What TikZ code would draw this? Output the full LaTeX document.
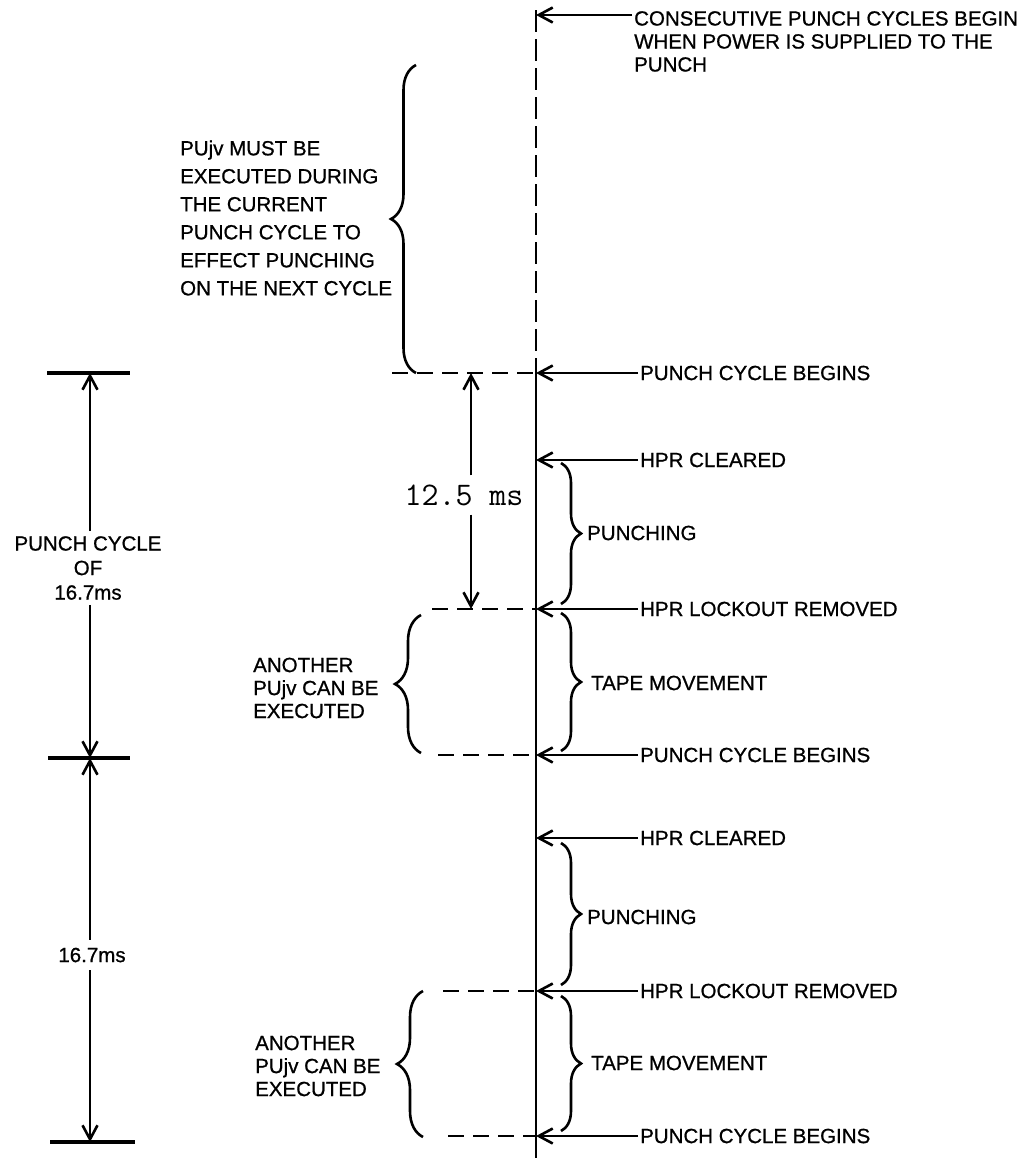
\documentclass[tikz,border=0pt]{standalone}
\usepackage{fontspec}
\setmainfont{Liberation Sans}[FakeBold=0.8]
\usetikzlibrary{arrows.meta, decorations.pathreplacing}

\begin{document}
\begin{tikzpicture}[
  x=1pt, y=-1pt,
  font=\fontsize{20.5}{23}\selectfont,
  arr/.style={-{Straight Barb[length=14pt, width=15pt]}, line width=2.6pt},
  tline/.style={line width=2.8pt},
  tdash/.style={line width=2.8pt, dash pattern=on 22pt off 7pt},
  hdash/.style={line width=2.6pt, dash pattern=on 16pt off 9pt},
  bar/.style={line width=3.2pt},
  brc/.style={decorate, decoration={brace, amplitude=#1}, line width=2.6pt},
  evt/.style={anchor=west, inner sep=2pt},
  note/.style={align=left, anchor=west, inner sep=2pt}
]
\useasboundingbox (0,0) rectangle (1021,1160);

% time line
\coordinate (top) at (536,10);
\coordinate (t0) at (536,15);
\coordinate (p1) at (536,373);
\coordinate (c1) at (536,460);
\coordinate (l1) at (536,609);
\coordinate (p2) at (536,755);
\coordinate (c2) at (536,838);
\coordinate (l2) at (536,991);
\coordinate (p3) at (536,1136);
\coordinate (bot) at (536,1160);

\draw[tdash] (top) -- (p1);
\draw[tline] (p1) -- (p3);
\draw[tdash] (p3) -- (bot);

% events
\node[note, anchor=north west] (cons) at (632,9)
  {CONSECUTIVE PUNCH CYCLES BEGIN\\WHEN POWER IS SUPPLIED TO THE\\PUNCH};
\draw[arr] (cons.west |- t0) -- (t0);

\node[evt] (e1) at (638,373) {PUNCH CYCLE BEGINS};
\draw[arr] (e1.west) -- (p1);
\node[evt] (e2) at (638,460) {HPR CLEARED};
\draw[arr] (e2.west) -- (c1);
\node[evt] (e3) at (638,609) {HPR LOCKOUT REMOVED};
\draw[arr] (e3.west) -- (l1);
\node[evt] (e4) at (638,755) {PUNCH CYCLE BEGINS};
\draw[arr] (e4.west) -- (p2);
\node[evt] (e5) at (638,838) {HPR CLEARED};
\draw[arr] (e5.west) -- (c2);
\node[evt] (e6) at (638,991) {HPR LOCKOUT REMOVED};
\draw[arr] (e6.west) -- (l2);
\node[evt] (e7) at (638,1136) {PUNCH CYCLE BEGINS};
\draw[arr] (e7.west) -- (p3);

% phases on the right
\draw[brc=20pt] (561,463) -- (561,604);
\node[evt] (ph1) at (585,533) {PUNCHING};
\draw[brc=20pt] (561,613) -- (561,751);
\node[evt] (tp1) at (589,683) {TAPE MOVEMENT};
\draw[brc=20pt] (561,843) -- (561,985);
\node[evt] (ph2) at (585,917) {PUNCHING};
\draw[brc=20pt] (561,996) -- (561,1131);
\node[evt] (tp2) at (589,1063) {TAPE MOVEMENT};

% windows on the left
\draw[brc=25pt] (416,373) -- (416,65);
\node[note, font=\fontsize{20.5}{28}\selectfont] (must) at (178,218)
  {PUjv MUST BE\\EXECUTED DURING\\THE CURRENT\\PUNCH CYCLE TO\\EFFECT PUNCHING\\ON THE NEXT CYCLE};
\draw[hdash] (392,373) -- (p1);

\draw[brc=26pt] (421,753) -- (421,615);
\node[note] (ano1) at (251,688) {ANOTHER\\PUjv CAN BE\\EXECUTED};
\draw[hdash] (432,609) -- (l1);
\draw[hdash] (438,755) -- (p2);

\draw[brc=26pt] (423,1137) -- (423,991);
\node[note] (ano2) at (253,1066) {ANOTHER\\PUjv CAN BE\\EXECUTED};
\draw[hdash] (443,991) -- (l2);
\draw[hdash] (448,1136) -- (p3);

% 12.5 ms
\coordinate (d1) at (471,373);
\coordinate (d2) at (471,609);
\node[font=\ttfamily\fontsize{33}{33}\selectfont, inner sep=9pt] (ms) at (464,495) {12.5 ms};
\draw[arr] (ms.north -| d1) -- (d1);
\draw[arr] (ms.south -| d2) -- (d2);

% cycle dimensions
\coordinate (b1) at (90,373);
\coordinate (b2) at (90,758);
\coordinate (b3) at (90,1142);
\draw[bar] ([xshift=-43pt]b1) -- ([xshift=40pt]b1);
\draw[bar] ([xshift=-42pt]b2) -- ([xshift=40pt]b2);
\draw[bar] ([xshift=-40pt]b3) -- ([xshift=45pt]b3);

\node[align=center, inner sep=5pt, font=\fontsize{20.5}{24.5}\selectfont] (cyc) at (88,568)
  {PUNCH CYCLE\\OF\\16.7ms};
\draw[arr] (cyc.north -| b1) -- (b1);
\draw[arr] (cyc.south -| b2) -- (b2);
\node[inner sep=8pt] (cyc2) at (92,955) {16.7ms};
\draw[arr] (cyc2.north -| b2) -- (b2);
\draw[arr] (cyc2.south -| b3) -- (b3);

\end{tikzpicture}
\end{document}
